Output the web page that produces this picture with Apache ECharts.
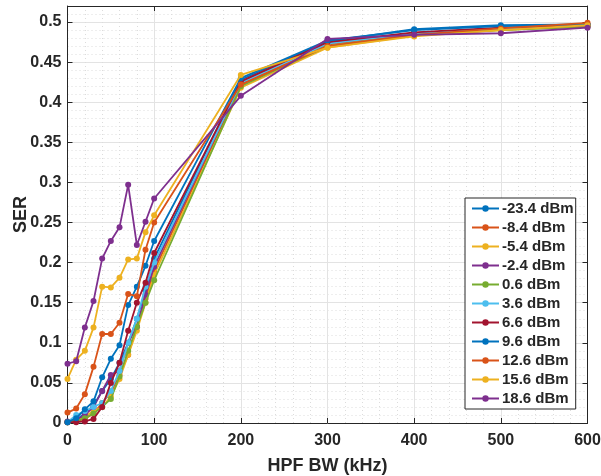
<!DOCTYPE html>
<html>
<head>
<meta charset="utf-8">
<script src="https://cdn.jsdelivr.net/npm/echarts@6/dist/echarts.min.js"></script>
<style>
html,body{margin:0;padding:0;background:#fff;}
#c{width:601px;height:476px;}
</style>
</head>
<body>
<div id="c"></div>
<script>
var xValues = [0, 10, 20, 30, 40, 50, 60, 70, 80, 90, 100, 200, 300, 400, 500, 600];
var xTicks = [0, 100, 200, 300, 400, 500, 600];
var yTicks = [0, 0.05, 0.1, 0.15, 0.2, 0.25, 0.3, 0.35, 0.4, 0.45, 0.5];
var seriesNames = ['-23.4 dBm', '-8.4 dBm', '-5.4 dBm', '-2.4 dBm', '0.6 dBm', '3.6 dBm', '6.6 dBm', '9.6 dBm', '12.6 dBm', '15.6 dBm', '18.6 dBm'];
var sM23_4 = [0.001, 0.004, 0.012, 0.022, 0.040, 0.055, 0.075, 0.100, 0.130, 0.165, 0.205, 0.428, 0.476, 0.491, 0.496, 0.497];
var sM8_4  = [0.001, 0.002, 0.005, 0.012, 0.025, 0.038, 0.060, 0.085, 0.120, 0.155, 0.190, 0.422, 0.472, 0.486, 0.492, 0.497];
var sM5_4  = [0.001, 0.003, 0.008, 0.015, 0.020, 0.033, 0.055, 0.085, 0.115, 0.150, 0.185, 0.418, 0.468, 0.483, 0.490, 0.495];
var sM2_4  = [0.002, 0.004, 0.010, 0.020, 0.040, 0.060, 0.065, 0.100, 0.120, 0.160, 0.195, 0.425, 0.474, 0.486, 0.492, 0.494];
var s0_6   = [0.001, 0.002, 0.006, 0.012, 0.020, 0.030, 0.058, 0.090, 0.120, 0.150, 0.178, 0.420, 0.470, 0.484, 0.490, 0.494];
var s3_6   = [0.001, 0.010, 0.015, 0.020, 0.025, 0.040, 0.065, 0.100, 0.130, 0.170, 0.200, 0.424, 0.473, 0.486, 0.492, 0.496];
var s6_6   = [0.001, 0.001, 0.002, 0.005, 0.020, 0.050, 0.075, 0.115, 0.150, 0.175, 0.212, 0.426, 0.475, 0.487, 0.493, 0.496];
var s9_6   = [0.001, 0.006, 0.017, 0.027, 0.057, 0.080, 0.097, 0.147, 0.170, 0.196, 0.227, 0.430, 0.477, 0.490, 0.495, 0.497];
var s12_6  = [0.013, 0.018, 0.036, 0.070, 0.111, 0.111, 0.125, 0.161, 0.158, 0.216, 0.250, 0.422, 0.470, 0.484, 0.492, 0.499];
var s15_6  = [0.055, 0.079, 0.090, 0.119, 0.170, 0.169, 0.181, 0.204, 0.205, 0.238, 0.259, 0.434, 0.468, 0.482, 0.490, 0.496];
var s18_6  = [0.074, 0.077, 0.119, 0.152, 0.205, 0.227, 0.244, 0.297, 0.222, 0.251, 0.280, 0.408, 0.479, 0.484, 0.486, 0.493];
var seriesValues = [sM23_4, sM8_4, sM5_4, sM2_4, s0_6, s3_6, s6_6, s9_6, s12_6, s15_6, s18_6];
var colors = ['#0072BD', '#D95319', '#EDB120', '#7E2F8E', '#77AC30', '#4DBEEE', '#A2142F', '#0072BD', '#D95319', '#EDB120', '#7E2F8E'];

var FONT = 'Liberation Sans, Arial, Helvetica, sans-serif';
var TXT = '#262626';

var series = seriesNames.map(function (n, i) {
  return {
    name: n,
    type: 'line',
    data: xValues.map(function (x, k) { return [x, seriesValues[i][k]]; }),
    symbol: 'circle',
    symbolSize: 6,
    lineStyle: { width: 1.8, color: colors[i] },
    itemStyle: { color: colors[i] },
    emphasis: { disabled: true },
    animation: false,
    z: 3 + i
  };
});

var chart = echarts.init(document.getElementById('c'), null, { renderer: 'canvas' });
var gridSplit = { show: true, lineStyle: { color: '#e3e3e3', width: 1 } };
var minorSplit = { show: true, lineStyle: { color: '#dcdcdc', width: 1, type: [1, 3] } };
chart.setOption({
  backgroundColor: '#fff',
  animation: false,
  color: colors,
  textStyle: { fontFamily: FONT },
  grid: { left: 67.5, right: 13.5, top: 6, bottom: 53, containLabel: false, outerBoundsMode: 'none' },
  legend: {
    orient: 'vertical',
    left: 465,
    top: 198,
    data: seriesNames,
    itemWidth: 27,
    itemHeight: 8,
    itemGap: 4,
    padding: [3, 2, 3, 6],
    backgroundColor: '#fff',
    borderColor: '#262626',
    borderWidth: 1,
    borderRadius: 0,
    textStyle: { fontFamily: FONT, fontSize: 15, fontWeight: 'bold', color: TXT, padding: [0, 0, 0, -2] }
  },
  xAxis: [{
    type: 'value',
    min: xTicks[0],
    max: xTicks[xTicks.length - 1],
    interval: xTicks[1] - xTicks[0],
    name: 'HPF BW (kHz)',
    nameLocation: 'middle',
    nameGap: 34,
    nameMoveOverlap: false,
    nameTextStyle: { fontFamily: FONT, fontSize: 18, fontWeight: 'bold', color: TXT },
    axisLine: { show: true, lineStyle: { color: TXT, width: 1 } },
    axisTick: { show: true, inside: true, length: 5, lineStyle: { color: TXT } },
    minorTick: { show: false, splitNumber: 5 },
    axisLabel: { fontFamily: FONT, fontSize: 16, fontWeight: 'bold', color: TXT, margin: 10 },
    splitLine: gridSplit,
    minorSplitLine: minorSplit
  }, {
    type: 'value', position: 'top',
    min: xTicks[0], max: xTicks[xTicks.length - 1], interval: xTicks[1] - xTicks[0],
    axisLine: { show: true, onZero: false, lineStyle: { color: TXT, width: 1 } },
    axisTick: { show: true, inside: true, length: 5, lineStyle: { color: TXT } },
    axisLabel: { show: false }, splitLine: { show: false }
  }],
  yAxis: [{
    type: 'value',
    min: yTicks[0],
    max: 0.52,
    interval: yTicks[1] - yTicks[0],
    name: 'SER',
    nameLocation: 'middle',
    nameGap: 37,
    nameMoveOverlap: false,
    nameTextStyle: { fontFamily: FONT, fontSize: 18, fontWeight: 'bold', color: TXT },
    axisLine: { show: true, lineStyle: { color: TXT, width: 1 } },
    axisTick: { show: true, inside: true, length: 5, lineStyle: { color: TXT } },
    minorTick: { show: false, splitNumber: 5 },
    axisLabel: {
      fontFamily: FONT, fontSize: 16, fontWeight: 'bold', color: TXT, margin: 6,
      showMaxLabel: false,
      formatter: function (v) {
        var r = Math.round(v * 100) / 100;
        return yTicks.indexOf(r) >= 0 && Math.abs(v - r) < 1e-9 ? String(r) : '';
      }
    },
    splitLine: gridSplit,
    minorSplitLine: minorSplit
  }, {
    type: 'value', position: 'right',
    min: yTicks[0], max: 0.52, interval: yTicks[1] - yTicks[0],
    axisLine: { show: true, onZero: false, lineStyle: { color: TXT, width: 1 } },
    axisTick: { show: true, inside: true, length: 5, lineStyle: { color: TXT } },
    axisLabel: { show: false }, splitLine: { show: false }
  }],
  series: series
});
</script>
</body>
</html>
